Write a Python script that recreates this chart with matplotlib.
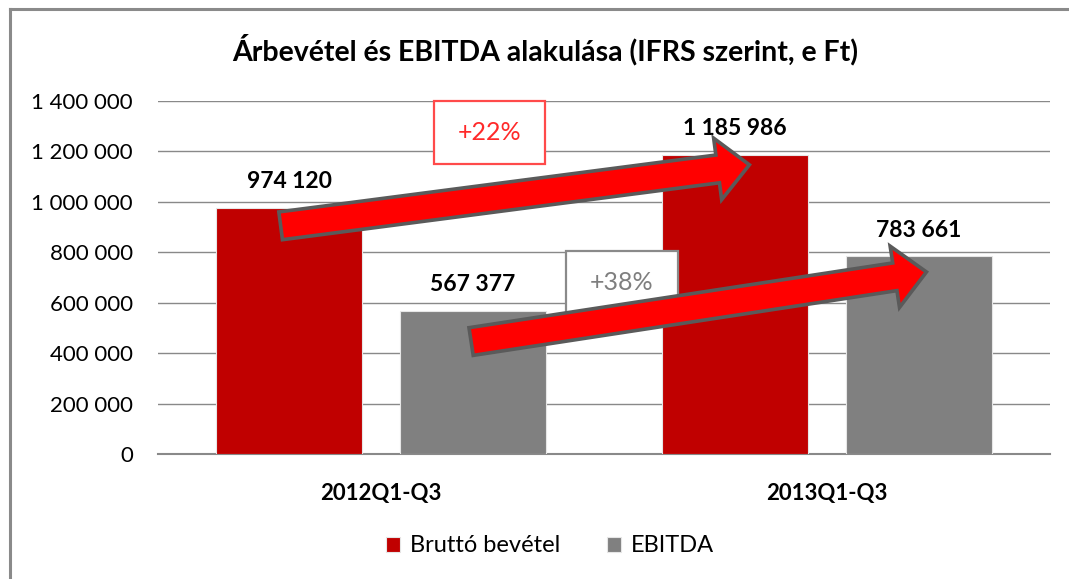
import matplotlib.pyplot as plt
import matplotlib.transforms as mtransforms
from matplotlib.patches import Polygon, Rectangle
from matplotlib.lines import Line2D
import numpy as np

plt.rcParams['font.family'] = ['Lato', 'DejaVu Sans']

categories = ["2012Q1-Q3", "2013Q1-Q3"]
revenue = [974120, 1185986]
ebitda = [567377, 783661]
series_names = ["Bruttó bevétel", "EBITDA"]
y_ticks = [0, 200000, 400000, 600000, 800000, 1000000, 1200000, 1400000]
title = "Árbevétel és EBITDA alakulása (IFRS szerint, e Ft)"

# growth callouts: (label, x, y) in data units
callouts = [("+22%", 0.243, 1274000), ("+38%", 0.54, 679000)]
# decorative arrows: tail and tip in data units
arrows = [((-0.225, 905000), (0.826, 1147000)),
          ((0.202, 446000), (1.223, 722000))]

RED = '#c00000'
GREY = '#808080'
LINE = '#898989'


def fmt(v):
    return f"{v:,}".replace(",", " ")


def fat_arrow(ax, tail, tip, half=14, head_half=31, head_len=32):
    t = ax.transData.transform(tail)
    p = ax.transData.transform(tip)
    u = (p - t) / np.hypot(*(p - t))
    n = np.array([-u[1], u[0]])
    h = p - u * head_len
    pts = [t + n * half, h + n * half, h + n * head_half, p,
           h - n * head_half, h - n * half, t - n * half]
    ax.add_patch(Polygon(pts, closed=True, facecolor='#ff0000',
                         edgecolor='#5a5a5a', linewidth=2.6,
                         joinstyle='miter',
                         transform=mtransforms.IdentityTransform(),
                         clip_on=False, zorder=6))


fig = plt.figure(figsize=(10.69, 5.79), dpi=100)
ax = fig.add_axes([158 / 1069, 1 - 454 / 579, (1050 - 158) / 1069,
                   (454 - 101) / 579])

x = np.arange(len(categories))
off = 0.206
w = 0.328
b1 = ax.bar(x - off, revenue, w, color=RED, edgecolor='#e6e6e6',
            linewidth=0.8, label=series_names[0], zorder=3)
b2 = ax.bar(x + off, ebitda, w, color=GREY, edgecolor='#e6e6e6',
            linewidth=0.8, label=series_names[1], zorder=3)

for bars, vals in ((b1, revenue), (b2, ebitda)):
    for r, v in zip(bars, vals):
        ax.annotate(fmt(v), (r.get_x() + r.get_width() / 2, v),
                    xytext=(0, 19), textcoords='offset points',
                    ha='center', va='center', fontsize=16.5,
                    fontweight='bold', color='black', zorder=4)

ax.set_xlim(-0.5, 1.5)
ax.set_ylim(0, 1400000)
ax.set_yticks(y_ticks)
ax.set_yticklabels([fmt(v) for v in y_ticks], fontsize=16)
ax.set_xticks(x)
ax.set_xticklabels(categories, fontsize=16, fontweight='bold')
ax.tick_params(axis='y', length=0, pad=18)
ax.tick_params(axis='x', length=0, pad=21)
ax.yaxis.grid(True, color=LINE, linewidth=1.0, zorder=0)
ax.set_axisbelow(True)
for s in ('top', 'right', 'left'):
    ax.spines[s].set_visible(False)
ax.spines['bottom'].set_color(LINE)
ax.spines['bottom'].set_linewidth(1.5)

# callout boxes
colors = ['#ff2a2a', '#7f7f7f']
edges = ['#ff4a4a', '#8a8a8a']
for (lab, cx, cy), c, e in zip(callouts, colors, edges):
    ax.add_patch(Rectangle((cx - 0.125, cy - 125000), 0.25, 250000,
                           facecolor='white', edgecolor=e, linewidth=1.6,
                           clip_on=False, zorder=5))
    ax.text(cx, cy, lab, ha='center', va='center', fontsize=18,
            color=c, zorder=5)

fig.canvas.draw()
for tail, tip in arrows:
    fat_arrow(ax, tail, tip)

fig.text(545 / 1069, 1 - 50 / 579, title, ha='center', va='center',
         fontsize=20.5, fontweight='bold')

ax.legend(loc='center', bbox_to_anchor=(550 / 1069, 1 - 546 / 579),
          bbox_transform=fig.transFigure, ncol=2, frameon=False,
          fontsize=17, handlelength=0.6, handleheight=0.6,
          handletextpad=0.4, columnspacing=2.0)

# chart frame
fig.add_artist(Line2D([10 / 1069, 1.0], [1 - 9 / 579, 1 - 9 / 579],
                      color='#8a8a8a', linewidth=2.2))
fig.add_artist(Line2D([10 / 1069, 10 / 1069], [0.0, 1 - 9 / 579],
                      color='#8a8a8a', linewidth=2.2))

fig.savefig("out.png", dpi=100)
